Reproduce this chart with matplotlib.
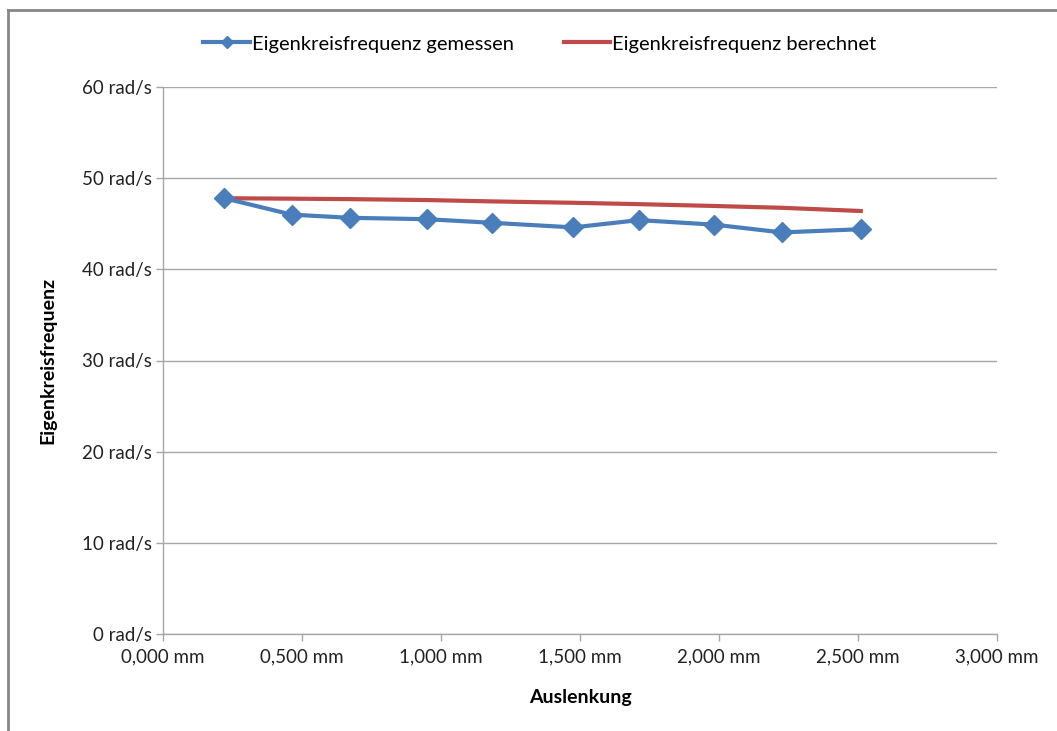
import numpy as np
import matplotlib.pyplot as plt
from matplotlib.lines import Line2D
from matplotlib.ticker import FuncFormatter, MultipleLocator

# Auslenkung in mm
auslenkung = [0.22, 0.463, 0.673, 0.949, 1.185, 1.476, 1.712, 1.983, 2.226, 2.510]
# Eigenkreisfrequenz in rad/s
gemessen = [47.8, 46.0, 45.65, 45.5, 45.1, 44.6, 45.4, 44.9, 44.05, 44.4]
berechnet = [47.8, 47.75, 47.7, 47.6, 47.45, 47.3, 47.15, 46.95, 46.75, 46.4]

plt.rcParams['font.family'] = ['Lato', 'DejaVu Sans']

W, H = 1057, 731
fig = plt.figure(figsize=(W / 100, H / 100), dpi=100)
ax = fig.add_axes([163 / W, 1 - 634 / H, (997 - 163) / W, (634 - 87) / H])

blue = '#4a7ebb'
red = '#be4b48'
grid_c = '#a6a6a6'

ax.plot(auslenkung, gemessen, color=blue, lw=3, marker='D', markersize=10,
        label='Eigenkreisfrequenz gemessen', zorder=3)
ax.plot(auslenkung, berechnet, color=red, lw=3,
        label='Eigenkreisfrequenz berechnet', zorder=2)

ax.set_xlim(0, 3)
ax.set_ylim(0, 60)
ax.xaxis.set_major_locator(MultipleLocator(0.5))
ax.yaxis.set_major_locator(MultipleLocator(10))
ax.xaxis.set_major_formatter(FuncFormatter(lambda v, p: f'{v:.3f}'.replace('.', ',') + ' mm'))
ax.yaxis.set_major_formatter(FuncFormatter(lambda v, p: f'{v:.0f} rad/s'))

ax.grid(axis='y', color=grid_c, lw=1)
ax.set_axisbelow(True)
for s in ['top', 'right']:
    ax.spines[s].set_visible(False)
for s in ['left', 'bottom']:
    ax.spines[s].set_color(grid_c)
    ax.spines[s].set_linewidth(1)
ax.tick_params(colors=grid_c, length=5, width=1, labelsize=13.5, labelcolor='#222222')
ax.tick_params(axis='x', pad=5)
ax.tick_params(axis='y', pad=3)

ax.set_xlabel('Auslenkung', fontsize=14, fontweight='bold')
ax.set_ylabel('Eigenkreisfrequenz', fontsize=14, fontweight='bold')
ax.xaxis.set_label_coords(0.5, (634 - 698) / 547, transform=ax.transAxes)
ax.yaxis.set_label_coords((48 - 163) / 834, 0.5, transform=ax.transAxes)
ax.xaxis.label.set_va('center')
ax.yaxis.label.set_va('center')

fig.legend(loc='center', bbox_to_anchor=(540 / W, 1 - 44 / H), ncol=2, frameon=False,
           fontsize=14.5, handlelength=2.3, handletextpad=0.1, columnspacing=2.5,
           markerscale=0.6)

# outer chart border (left and top edge visible)
border = '#868686'
fig.add_artist(Line2D([8 / W, 8 / W], [0, 1 - 10 / H], color=border, lw=2,
                      transform=fig.transFigure))
fig.add_artist(Line2D([8 / W, 1], [1 - 10 / H, 1 - 10 / H], color=border, lw=2,
                      transform=fig.transFigure))

fig.savefig('out.png', dpi=100)
